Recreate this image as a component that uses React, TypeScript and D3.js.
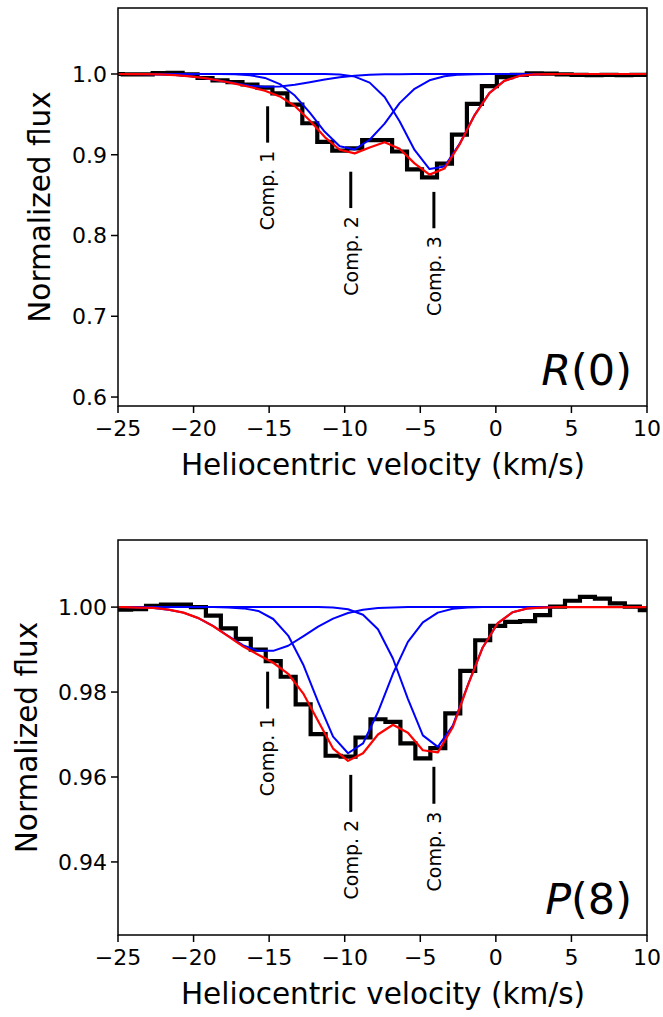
import React from 'react';
import * as d3 from 'd3';

const W = 663;
const H = 1017;
const FONT = '"DejaVu Sans", sans-serif';

// ---------- shared axis data ----------
const xTicks = [-25, -20, -15, -10, -5, 0, 5, 10];
const compLabels = ['Comp. 1', 'Comp. 2', 'Comp. 3'];
const compVel = [-15.1, -9.6, -4.1];

// ---------- R(0) panel ----------
const yTicksTop = [0.6, 0.7, 0.8, 0.9, 1.0];
const velTop = [-25.18, -24.19, -23.2, -22.21, -21.22, -20.23, -19.24, -18.25, -17.26, -16.27, -15.28, -14.29, -13.3, -12.31, -11.32, -10.33, -9.34, -8.35, -7.36, -6.37, -5.38, -4.39, -3.4, -2.41, -1.42, -0.43, 0.56, 1.55, 2.54, 3.53, 4.52, 5.51, 6.5, 7.49, 8.48, 9.47, 10.46];
const fluxTop = [1.0, 0.9995, 0.9995, 1.001, 1.0015, 0.9995, 0.995, 0.992, 0.99, 0.987, 0.983, 0.976, 0.962, 0.939, 0.916, 0.905, 0.908, 0.918, 0.918, 0.904, 0.882, 0.872, 0.889, 0.925, 0.963, 0.985, 0.996, 0.999, 1.0008, 1.0005, 0.9995, 0.999, 0.9985, 0.999, 0.9985, 0.999, 0.999];
const comp1Top = [1.0, 0.9999, 0.9998, 0.9994, 0.9986, 0.9971, 0.9948, 0.9917, 0.9884, 0.9855, 0.9841, 0.9845, 0.9866, 0.9898, 0.9931, 0.9959, 0.9978, 0.999, 0.9996, 0.9998, 1, 1, 1, 1, 1, 1, 1, 1, 1, 1, 1, 1, 1, 1, 1, 1, 1];
const comp2Top = [1, 1, 1, 1, 1, 1, 1.0, 0.9999, 0.9996, 0.9984, 0.9951, 0.9875, 0.9733, 0.9521, 0.9284, 0.9105, 0.9066, 0.9186, 0.9385, 0.9639, 0.9817, 0.9922, 0.9972, 0.9992, 0.9998, 1, 1, 1, 1, 1, 1, 1, 1, 1, 1, 1, 1];
const comp3Top = [1, 1, 1, 1, 1, 1, 1, 1, 1, 1, 1, 1, 1, 1, 0.9999, 0.9993, 0.9968, 0.9893, 0.9716, 0.9414, 0.9059, 0.8823, 0.8854, 0.9131, 0.9487, 0.9764, 0.9915, 0.9976, 0.9995, 0.9999, 1, 1, 1, 1, 1, 1, 1];
const fitTop = [1.0, 0.9999, 0.9998, 0.9994, 0.9986, 0.9971, 0.9948, 0.9916, 0.988, 0.9839, 0.9793, 0.9722, 0.9603, 0.9424, 0.9219, 0.9062, 0.9017, 0.909, 0.9155, 0.9075, 0.8893, 0.8754, 0.8829, 0.9124, 0.9485, 0.9764, 0.9915, 0.9976, 0.9995, 0.9999, 1, 1, 1, 1, 1, 1, 1];
const markTop = [0.96, 0.879, 0.854];

// ---------- P(8) panel ----------
const yTicksBot = [0.94, 0.96, 0.98, 1.0];
const velBot = [-25.62, -24.63, -23.64, -22.65, -21.66, -20.67, -19.68, -18.69, -17.7, -16.71, -15.72, -14.73, -13.74, -12.75, -11.76, -10.77, -9.78, -8.79, -7.8, -6.81, -5.82, -4.83, -3.84, -2.85, -1.86, -0.87, 0.12, 1.11, 2.1, 3.09, 4.08, 5.07, 6.06, 7.05, 8.04, 9.03, 10.02, 11.01];
const fluxBot = [0.9994, 0.9994, 0.9995, 1.0003, 1.0006, 1.0006, 1.0, 0.998, 0.995, 0.9925, 0.99, 0.9873, 0.9836, 0.9771, 0.9701, 0.965, 0.9648, 0.9693, 0.9736, 0.973, 0.9679, 0.9644, 0.9668, 0.975, 0.985, 0.9922, 0.9956, 0.9965, 0.9967, 0.9981, 1.0001, 1.0015, 1.0024, 1.002, 1.0009, 1.0001, 0.9993, 0.9993];
const comp1Bot = [1.0, 1.0, 0.9999, 0.9998, 0.9994, 0.9987, 0.9974, 0.9955, 0.9932, 0.991, 0.9897, 0.9897, 0.9909, 0.9931, 0.9954, 0.9973, 0.9986, 0.9994, 0.9998, 0.9999, 1, 1, 1, 1, 1, 1, 1, 1, 1, 1, 1, 1, 1, 1, 1, 1, 1, 1];
const comp2Bot = [1, 1, 1, 1, 1, 1, 1, 1, 0.9999, 0.9997, 0.9991, 0.9972, 0.9933, 0.9865, 0.9777, 0.9695, 0.9656, 0.9679, 0.9753, 0.9843, 0.9918, 0.9964, 0.9987, 0.9996, 0.9999, 1, 1, 1, 1, 1, 1, 1, 1, 1, 1, 1, 1, 1];
const comp3Bot = [1, 1, 1, 1, 1, 1, 1, 1, 1, 1, 1, 1, 1, 1, 1, 0.9999, 0.9995, 0.9982, 0.9948, 0.9879, 0.9784, 0.9698, 0.9671, 0.9721, 0.9816, 0.9905, 0.9962, 0.9988, 0.9997, 0.9999, 1, 1, 1, 1, 1, 1, 1, 1];
const fitBot = [1.0, 1.0, 0.9999, 0.9998, 0.9994, 0.9987, 0.9974, 0.9955, 0.9931, 0.9907, 0.9888, 0.9869, 0.9843, 0.9797, 0.9732, 0.9667, 0.9638, 0.9656, 0.97, 0.9723, 0.9704, 0.9663, 0.9658, 0.9717, 0.9815, 0.9905, 0.9962, 0.9988, 0.9997, 0.9999, 1, 1, 1, 1, 1, 1, 1, 1];
const markBot = [0.9848, 0.9605, 0.9624];

const fmtMinus = (v: number, d: number) => {
  const s = Math.abs(v).toFixed(d);
  return v < 0 ? '\u2212' + s : s;
};

type PanelProps = {
  id: string;
  top: number;
  bottom: number;
  yDomain: [number, number];
  yTicks: number[];
  yDigits: number;
  vel: number[];
  flux: number[];
  comps: number[][];
  fit: number[];
  marks: number[];
  markLen: number;
  titleItalic: string;
  titleRest: string;
  ylabelX: number;
};

const LEFT = 118;
const RIGHT = 647;

function Panel(p: PanelProps) {
  const x = d3.scaleLinear().domain([-25, 10]).range([LEFT, RIGHT]);
  const y = d3.scaleLinear().domain(p.yDomain).range([p.bottom, p.top]);
  const step = d3
    .line<number>()
    .x((_, i) => x(p.vel[i]))
    .y((d) => y(d))
    .curve(d3.curveStep);
  const line = d3
    .line<number>()
    .x((_, i) => x(p.vel[i]))
    .y((d) => y(d));
  const clip = `clip-${p.id}`;
  const tickLen = 7;
  const midY = (p.top + p.bottom) / 2;
  return (
    <g>
      <defs>
        <clipPath id={clip}>
          <rect x={LEFT} y={p.top} width={RIGHT - LEFT} height={p.bottom - p.top} />
        </clipPath>
      </defs>
      <g clipPath={`url(#${clip})`}>
        <path d={step(p.flux) || ''} fill="none" stroke="#000" strokeWidth={4.2} strokeLinejoin="miter" />
        {p.comps.map((c, i) => (
          <path key={i} d={line(c) || ''} fill="none" stroke="#0000ff" strokeWidth={2} strokeLinejoin="round" />
        ))}
        <path d={line(p.fit) || ''} fill="none" stroke="#ff0000" strokeWidth={2.2} strokeLinejoin="round" />
      </g>
      {/* component markers */}
      {p.marks.map((m, i) => {
        const xx = x(compVel[i]);
        const yTop = y(m);
        const yBot = y(m - p.markLen);
        return (
          <g key={i}>
            <line x1={xx} x2={xx} y1={yTop} y2={yBot} stroke="#000" strokeWidth={3} />
            <text
              transform={`translate(${xx},${yBot + 8}) rotate(-90)`}
              textAnchor="end"
              dy="0.36em"
              fontFamily={FONT}
              fontSize={19}
              fill="#000"
            >
              {compLabels[i]}
            </text>
          </g>
        );
      })}
      {/* spines */}
      <rect x={LEFT} y={p.top} width={RIGHT - LEFT} height={p.bottom - p.top} fill="none" stroke="#000" strokeWidth={1.5} />
      {/* x ticks */}
      {xTicks.map((t) => (
        <g key={t}>
          <line x1={x(t)} x2={x(t)} y1={p.bottom} y2={p.bottom + tickLen} stroke="#000" strokeWidth={1.5} />
          <text x={x(t)} y={p.bottom + 30} textAnchor="middle" fontFamily={FONT} fontSize={22} fill="#000">
            {fmtMinus(t, 0)}
          </text>
        </g>
      ))}
      {/* y ticks */}
      {p.yTicks.map((t) => (
        <g key={t}>
          <line x1={LEFT - tickLen} x2={LEFT} y1={y(t)} y2={y(t)} stroke="#000" strokeWidth={1.5} />
          <text x={LEFT - 11} y={y(t)} dy="0.36em" textAnchor="end" fontFamily={FONT} fontSize={22} fill="#000">
            {t.toFixed(p.yDigits)}
          </text>
        </g>
      ))}
      {/* axis labels */}
      <text x={(LEFT + RIGHT) / 2 + 0.5} y={p.bottom + 69} textAnchor="middle" fontFamily={FONT} fontSize={29.5} fill="#000">
        Heliocentric velocity (km/s)
      </text>
      <text
        transform={`translate(${p.ylabelX},${midY}) rotate(-90)`}
        textAnchor="middle"
        fontFamily={FONT}
        fontSize={29.5}
        fill="#000"
      >
        Normalized flux
      </text>
      {/* title */}
      <text x={632} y={p.bottom - 21} textAnchor="end" fontFamily={FONT} fontSize={43} fill="#000">
        <tspan fontStyle="italic">{p.titleItalic}</tspan>
        <tspan>{p.titleRest}</tspan>
      </text>
    </g>
  );
}

export default function App() {
  return (
    <svg
      width={W}
      height={H}
      viewBox={`0 0 ${W} ${H}`}
      style={{ position: 'absolute', left: 0, top: 0, background: '#fff' }}
    >
      <rect x={0} y={0} width={W} height={H} fill="#fff" />
      <Panel
        id="top"
        top={8}
        bottom={406}
        yDomain={[0.5889, 1.0817]}
        yTicks={yTicksTop}
        yDigits={1}
        vel={velTop}
        flux={fluxTop}
        comps={[comp1Top, comp2Top, comp3Top]}
        fit={fitTop}
        marks={markTop}
        markLen={0.045}
        titleItalic="R"
        titleRest="(0)"
        ylabelX={50}
      />
      <Panel
        id="bot"
        top={540}
        bottom={935}
        yDomain={[0.9228, 1.0158]}
        yTicks={yTicksBot}
        yDigits={2}
        vel={velBot}
        flux={fluxBot}
        comps={[comp1Bot, comp2Bot, comp3Bot]}
        fit={fitBot}
        marks={markBot}
        markLen={0.0087}
        titleItalic="P"
        titleRest="(8)"
        ylabelX={37}
      />
    </svg>
  );
}
